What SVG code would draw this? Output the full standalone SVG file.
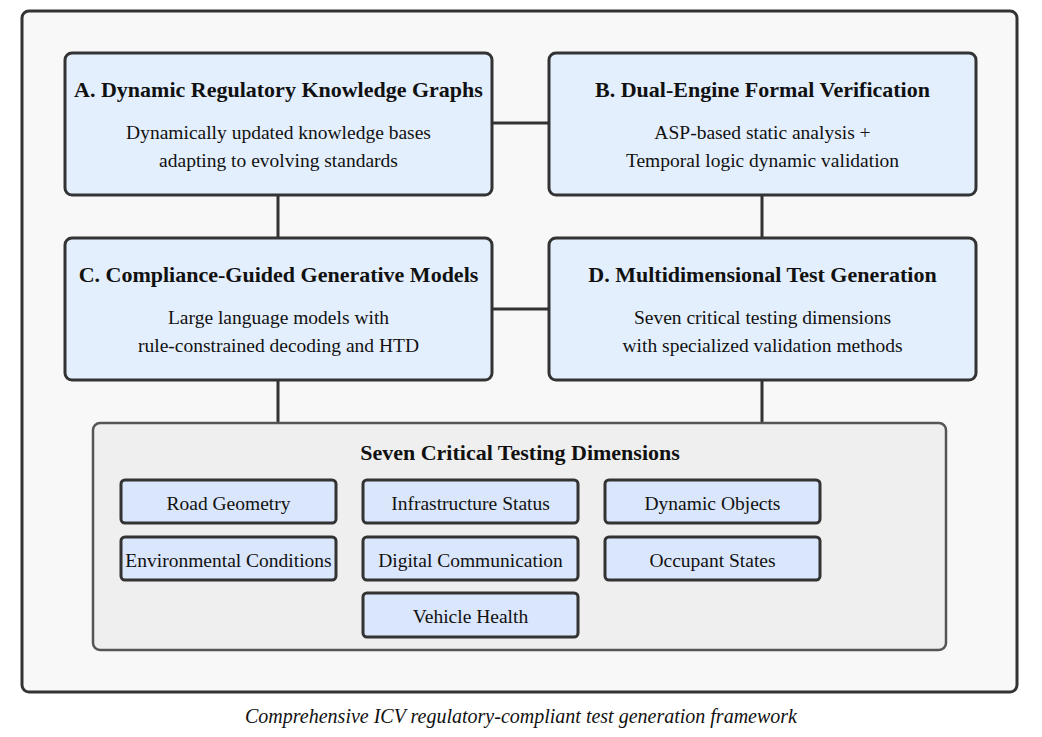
<svg xmlns="http://www.w3.org/2000/svg" width="1042" height="737" viewBox="0 0 1042 737">
<style>
.frame{fill:#f8f8f8;stroke:#333;stroke-width:3}
.main{fill:#e3effd;stroke:#333;stroke-width:3}
.group{fill:#efefef;stroke:#555;stroke-width:2.5}
.item{fill:#dae6fb;stroke:#333;stroke-width:3}
.conn{stroke:#333;stroke-width:3;fill:none}
text{font-family:"Liberation Serif","Times New Roman",serif;fill:#111;text-anchor:middle}
.t{font-size:22px;font-weight:bold}
.s{font-size:19.5px}
.i{font-size:19.5px}
.cap{font-size:20px;font-style:italic}
</style>
<rect class="frame" x="22" y="11" width="995" height="681" rx="7"/>
<g id="connectors">
<line class="conn" x1="492" y1="123" x2="549" y2="123"/>
<line class="conn" x1="278" y1="195" x2="278" y2="237"/>
<line class="conn" x1="762" y1="195" x2="762" y2="237"/>
<line class="conn" x1="492" y1="309" x2="549" y2="309"/>
<line class="conn" x1="278" y1="380" x2="278" y2="423"/>
<line class="conn" x1="762" y1="380" x2="762" y2="423"/>
</g>
<g id="nodeA">
<rect class="main" x="65" y="53" width="427" height="142" rx="7"/>
<text class="t" x="278.5" y="97">A. Dynamic Regulatory Knowledge Graphs</text>
<text class="s" x="278.5" y="139">Dynamically updated knowledge bases</text>
<text class="s" x="278.5" y="167">adapting to evolving standards</text>
</g>
<g id="nodeB">
<rect class="main" x="549" y="53" width="427" height="142" rx="7"/>
<text class="t" x="762.5" y="97">B. Dual-Engine Formal Verification</text>
<text class="s" x="762.5" y="139">ASP-based static analysis +</text>
<text class="s" x="762.5" y="167">Temporal logic dynamic validation</text>
</g>
<g id="nodeC">
<rect class="main" x="65" y="238" width="427" height="142" rx="7"/>
<text class="t" x="278.5" y="282">C. Compliance-Guided Generative Models</text>
<text class="s" x="278.5" y="324">Large language models with</text>
<text class="s" x="278.5" y="352">rule-constrained decoding and HTD</text>
</g>
<g id="nodeD">
<rect class="main" x="549" y="238" width="427" height="142" rx="7"/>
<text class="t" x="762.5" y="282">D. Multidimensional Test Generation</text>
<text class="s" x="762.5" y="324">Seven critical testing dimensions</text>
<text class="s" x="762.5" y="352">with specialized validation methods</text>
</g>
<g id="dimensions">
<rect class="group" x="93" y="423" width="853" height="227" rx="7"/>
<text class="t" x="520" y="460">Seven Critical Testing Dimensions</text>
</g>
<g id="roadGeometry"><rect class="item" x="121" y="480" width="215" height="43" rx="4"/><text class="i" x="228.5" y="510">Road Geometry</text></g>
<g id="infrastructureStatus"><rect class="item" x="363" y="480" width="215" height="43" rx="4"/><text class="i" x="470.5" y="510">Infrastructure Status</text></g>
<g id="dynamicObjects"><rect class="item" x="605" y="480" width="215" height="43" rx="4"/><text class="i" x="712.5" y="510">Dynamic Objects</text></g>
<g id="environmentalConditions"><rect class="item" x="121" y="537" width="215" height="43" rx="4"/><text class="i" x="228.5" y="567">Environmental Conditions</text></g>
<g id="digitalCommunication"><rect class="item" x="363" y="537" width="215" height="43" rx="4"/><text class="i" x="470.5" y="567">Digital Communication</text></g>
<g id="occupantStates"><rect class="item" x="605" y="537" width="215" height="43" rx="4"/><text class="i" x="712.5" y="567">Occupant States</text></g>
<g id="vehicleHealth"><rect class="item" x="363" y="593" width="215" height="44" rx="4"/><text class="i" x="470.5" y="623">Vehicle Health</text></g>
<text class="cap" x="521" y="723">Comprehensive ICV regulatory-compliant test generation framework</text>
</svg>
